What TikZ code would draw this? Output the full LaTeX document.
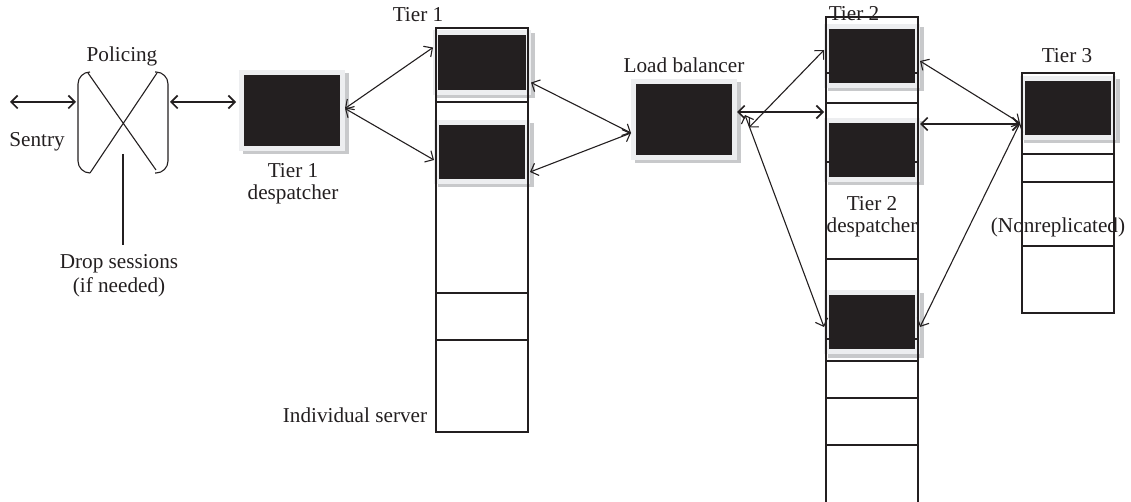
\documentclass[tikz,border=0pt]{standalone}
\usepackage{fontspec}
\setmainfont{Liberation Serif}
\usetikzlibrary{arrows.meta,calc}
\definecolor{ink}{HTML}{231F20}
\definecolor{srvframe}{HTML}{EDEEF0}
\definecolor{srvshadow}{HTML}{C8C9CB}
\begin{document}
\begin{tikzpicture}[x=1pt,y=-1pt,
  font=\fontsize{21.2}{22}\selectfont,
  srv/.style={fill=ink, draw=srvframe, line width=5pt, inner sep=0pt,
    minimum width=91pt, minimum height=59pt,
    preaction={fill=srvshadow, draw=srvshadow, transform canvas={shift={(3.5pt,-3.5pt)}}}},
  bigsrv/.style={srv, minimum width=101pt, minimum height=76pt},
  arr/.style={draw=ink, line width=1.1pt,
    {Straight Barb[length=6.5pt,width=13pt]}-{Straight Barb[length=6.5pt,width=13pt]}},
  thickarr/.style={arr, line width=1.7pt},
  colone/.style={draw=ink, line width=2pt},
  colv/.style={draw=ink, line width=1.3pt},
  colh/.style={draw=ink, line width=1.8pt},
  lbl/.style={inner sep=0pt, text=ink},
  bracket/.style={draw=ink, line width=1.1pt, rounded corners=12pt}]
\useasboundingbox (0,0) rectangle (1131,502);

% servers
\node[bigsrv] (t1d) at (292,110.5) {};
\node[srv, minimum width=93pt, minimum height=60pt] (t1a) at (482,62.5) {};
\node[srv] (t1b) at (482,152) {};
\node[bigsrv] (lb) at (684,119.5) {};
\node[srv] (t2a) at (872,56) {};
\node[srv] (t2b) at (872,150) {};
\node[srv] (t2c) at (872,322) {};
\node[srv] (t3) at (1068,108) {};

% tier columns
\draw[colone] (436,28) rectangle (528,432);
\draw[colone] (436,102) -- (528,102) (436,293) -- (528,293) (436,340) -- (528,340);
\draw[colv] (826,502) -- (826,17) -- (918,17) -- (918,502);
\draw[colh] foreach \y in {17,73,103,162,259,339,361,398,445} {(826,\y) -- (918,\y)};
\draw[colv] (1022,73) rectangle (1114,313);
\draw[colh] foreach \y in {73,154,182,246,313} {(1022,\y) -- (1114,\y)};

% policing
\node[inner sep=0pt, minimum width=90pt, minimum height=101pt] (pol) at (123,122.5) {};
\draw[bracket] (90,72) -- (78,72) -- (78,173) -- (90,173);
\draw[bracket] (155,72) -- (168,72) -- (168,173) -- (155,173);
\draw[draw=ink, line width=1.1pt] (88,73) -- (156,170) (157,73) -- (90,173);

\coordinate (sentryL) at (10,102);
\coordinate (polL) at (76,102);
\coordinate (polR) at (170,102);
\coordinate (dropTop) at (123,154);

% labels
\node[lbl, anchor=base] (polT) at (122,62) {Policing};
\node[lbl, anchor=base] (sentry) at (37,147) {Sentry};
\node[lbl, align=center, anchor=base] (t1dT) at (293,200) {Tier 1\\despatcher};
\node[lbl, align=center, anchor=base, font=\fontsize{21.2}{24}\selectfont] (drop) at (119,292) {Drop sessions\\(if needed)};
\node[lbl, anchor=base] (t1T) at (418,22) {Tier 1};
\node[lbl, anchor=base] (lbT) at (684,73) {Load balancer};
\node[lbl, anchor=base] (t2T) at (854,21) {Tier 2};
\node[lbl, anchor=base] (t3T) at (1067,63) {Tier 3};
\node[lbl, align=center, anchor=base] (t2dT) at (872,233) {Tier 2\\despatcher};
\node[lbl, anchor=base] (nonrep) at (1058,233) {(Nonreplicated)};
\node[lbl, anchor=base] (indiv) at (355,422) {Individual server};

% connectors
\draw[thickarr] (sentryL) -- (polL);
\draw[thickarr, shorten >=3pt] (polR) -- (polR -| t1d.west);
\draw[draw=ink, line width=2pt] (dropTop) -- (dropTop |- 0,245);
\draw[arr] ([yshift=2pt]t1d.east) -- ([yshift=15pt]t1a.west);
\draw[arr] ([yshift=2pt]t1d.east) -- ([yshift=-8pt]t1b.west);
\draw[arr] ([yshift=-20pt]t1a.east) -- ([yshift=-13.5pt]lb.west);
\draw[arr] ([yshift=-20pt]t1b.east) -- ([yshift=-13.5pt]lb.west);
\draw[thickarr] ([yshift=7.5pt]lb.east) -- ([yshift=38pt]t2b.west);
\draw[arr] ([xshift=12pt,yshift=-8pt]lb.east) -- ([yshift=6pt]t2a.west);
\draw[arr] ([xshift=8pt,yshift=4.5pt]lb.east) -- ([yshift=-5pt]t2c.west);
\draw[arr] ([yshift=-5pt]t2a.east) -- ([yshift=-15pt]t3.west);
\draw[thickarr] ([yshift=26pt]t2b.east) -- ([yshift=-16pt]t3.west);
\draw[arr] ([yshift=-5pt]t2c.east) -- ([yshift=-15pt]t3.west);
\end{tikzpicture}
\end{document}
